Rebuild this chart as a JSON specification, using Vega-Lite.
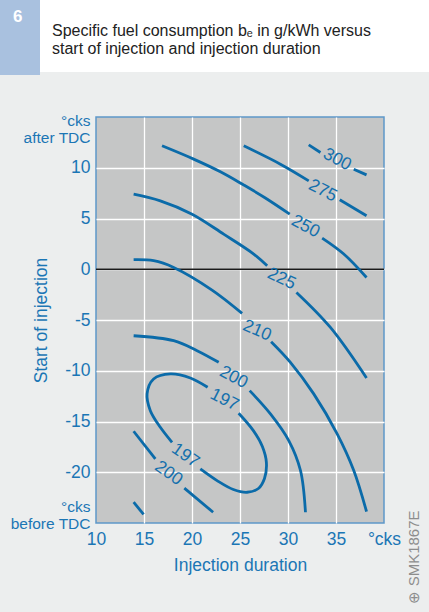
{
  "$schema": "https://vega.github.io/schema/vega-lite/v6.json",
  "background": "#eceeee",
  "padding": {"left": 0, "top": 0, "right": 0, "bottom": 10},
  "config": {
    "font": "Liberation Sans",
    "axis": {"labelFont": "Liberation Sans", "titleFont": "Liberation Sans"},
    "title": {"font": "Liberation Sans"}
  },
  "datasets": {
    "contours": [
      {"seg": "300a", "i": 1, "x": 32.16, "y": 12.25}, {"seg": "300a", "i": 2, "x": 33.38, "y": 11.5},
      {"seg": "300b", "i": 1, "x": 36.85, "y": 9.86}, {"seg": "300b", "i": 2, "x": 38.18, "y": 9.3},
      {"seg": "275a", "i": 1, "x": 25.39, "y": 12.16}, {"seg": "275a", "i": 2, "x": 29.21, "y": 10.35}, {"seg": "275a", "i": 3, "x": 32.16, "y": 8.71},
      {"seg": "275b", "i": 1, "x": 35.39, "y": 6.84}, {"seg": "275b", "i": 2, "x": 38.18, "y": 5.27},
      {"seg": "250a", "i": 1, "x": 16.88, "y": 12.16}, {"seg": "250a", "i": 2, "x": 20.17, "y": 10.85}, {"seg": "250a", "i": 3, "x": 22.96, "y": 9.6}, {"seg": "250a", "i": 4, "x": 25.39, "y": 8.3}, {"seg": "250a", "i": 5, "x": 27.6, "y": 7.05}, {"seg": "250a", "i": 6, "x": 30.18, "y": 5.43},
      {"seg": "250b", "i": 1, "x": 33.56, "y": 3.07}, {"seg": "250b", "i": 2, "x": 35.81, "y": 1.5}, {"seg": "250b", "i": 3, "x": 38.18, "y": -0.81},
      {"seg": "225a", "i": 1, "x": 13.92, "y": 7.4}, {"seg": "225a", "i": 2, "x": 16.7, "y": 6.74}, {"seg": "225a", "i": 3, "x": 20.01, "y": 5.43}, {"seg": "225a", "i": 4, "x": 23.3, "y": 3.46}, {"seg": "225a", "i": 5, "x": 26.43, "y": 1.5}, {"seg": "225a", "i": 6, "x": 27.83, "y": 0.34},
      {"seg": "225b", "i": 1, "x": 30.88, "y": -2.28}, {"seg": "225b", "i": 2, "x": 34.42, "y": -5.73}, {"seg": "225b", "i": 3, "x": 38.18, "y": -10.71},
      {"seg": "210a", "i": 1, "x": 13.92, "y": 0.94}, {"seg": "210a", "i": 2, "x": 16.0, "y": 0.84}, {"seg": "210a", "i": 3, "x": 18.09, "y": 0.18}, {"seg": "210a", "i": 4, "x": 22.09, "y": -2.05}, {"seg": "210a", "i": 5, "x": 25.22, "y": -4.35},
      {"seg": "210b", "i": 1, "x": 28.24, "y": -7.14}, {"seg": "210b", "i": 2, "x": 30.25, "y": -9.17}, {"seg": "210b", "i": 3, "x": 32.68, "y": -12.28}, {"seg": "210b", "i": 4, "x": 35.12, "y": -16.22}, {"seg": "210b", "i": 5, "x": 36.85, "y": -19.83}, {"seg": "210b", "i": 6, "x": 38.18, "y": -23.87},
      {"seg": "200a", "i": 1, "x": 13.92, "y": -6.55}, {"seg": "200a", "i": 2, "x": 18.09, "y": -7.04}, {"seg": "200a", "i": 3, "x": 20.53, "y": -8.02}, {"seg": "200a", "i": 4, "x": 22.78, "y": -9.17},
      {"seg": "200b", "i": 1, "x": 26.01, "y": -11.96}, {"seg": "200b", "i": 2, "x": 28.17, "y": -14.25}, {"seg": "200b", "i": 3, "x": 30.08, "y": -16.88}, {"seg": "200b", "i": 4, "x": 31.3, "y": -19.83}, {"seg": "200b", "i": 5, "x": 31.82, "y": -23.94},
      {"seg": "200c", "i": 1, "x": 13.92, "y": -15.96}, {"seg": "200c", "i": 2, "x": 16.18, "y": -18.68},
      {"seg": "200d", "i": 1, "x": 19.2, "y": -21.57}, {"seg": "200d", "i": 2, "x": 22.2, "y": -23.94},
      {"seg": "210c", "i": 1, "x": 13.92, "y": -22.95}, {"seg": "210c", "i": 2, "x": 14.96, "y": -24.16},
      {"seg": "197a", "i": 1, "x": 21.63, "y": -11.63}, {"seg": "197a", "i": 2, "x": 19.83, "y": -10.71}, {"seg": "197a", "i": 3, "x": 17.75, "y": -10.31}, {"seg": "197a", "i": 4, "x": 16.0, "y": -10.81}, {"seg": "197a", "i": 5, "x": 15.32, "y": -12.28}, {"seg": "197a", "i": 6, "x": 15.66, "y": -13.93}, {"seg": "197a", "i": 7, "x": 16.7, "y": -15.57}, {"seg": "197a", "i": 8, "x": 17.92, "y": -17.05},
      {"seg": "197b", "i": 1, "x": 20.87, "y": -19.67}, {"seg": "197b", "i": 2, "x": 22.61, "y": -20.82}, {"seg": "197b", "i": 3, "x": 24.31, "y": -21.7}, {"seg": "197b", "i": 4, "x": 25.74, "y": -21.97}, {"seg": "197b", "i": 5, "x": 26.92, "y": -21.6}, {"seg": "197b", "i": 6, "x": 27.55, "y": -20.62}, {"seg": "197b", "i": 7, "x": 27.75, "y": -19.05}, {"seg": "197b", "i": 8, "x": 27.33, "y": -17.47}, {"seg": "197b", "i": 9, "x": 26.39, "y": -15.9}, {"seg": "197b", "i": 10, "x": 24.86, "y": -14.19}
    ],
    "labels": [
      {"k": "300", "t": "300", "x": 35.12, "y": 10.8},
      {"k": "275", "t": "275", "x": 33.62, "y": 7.73},
      {"k": "250", "t": "250", "x": 31.82, "y": 4.21},
      {"k": "225", "t": "225", "x": 29.32, "y": -0.94},
      {"k": "210", "t": "210", "x": 26.78, "y": -6.05},
      {"k": "200a", "t": "200", "x": 24.34, "y": -10.65},
      {"k": "197a", "t": "197", "x": 23.37, "y": -12.87},
      {"k": "197b", "t": "197", "x": 19.31, "y": -18.36},
      {"k": "200b", "t": "200", "x": 17.57, "y": -20.1}
    ]
  },
  "hconcat": [
    {
      "width": 40, "height": 75,
      "view": {"fill": "#a9c1df", "stroke": null},
      "data": {"values": []},
      "mark": "point",
      "title": {"text": "6", "anchor": "start", "frame": "group", "align": "left", "baseline": "top", "offset": -26, "dx": 13, "fontSize": 17, "fontWeight": "bold", "color": "white"}
    },
    {
      "width": 56, "height": 72,
      "view": {"fill": "white", "stroke": null},
      "data": {"values": []},
      "mark": "point"
    },
    {
      "vconcat": [
        {
          "width": 333, "height": 72,
          "view": {"fill": "white", "stroke": null},
          "data": {"values": []},
          "mark": "point",
          "title": {"text": ["Specific fuel consumption bₑ in g/kWh versus", "start of injection and injection duration"], "anchor": "start", "frame": "group", "align": "left", "baseline": "top", "offset": -57, "dx": -44, "fontSize": 16, "fontWeight": "normal", "lineHeight": 18, "color": "#222222"}
        },
        {
          "width": 288, "height": 406,
          "view": {"fill": "#c5c6c6", "stroke": "#5d98c9", "strokeWidth": 1.5},
          "resolve": {"axis": {"y": "independent"}},
          "layer": [
            {
              "data": {"values": [{}]},
              "mark": {"type": "rule", "color": "#1a1a1a", "strokeWidth": 1.5},
              "encoding": {
                "y": {"datum": 0, "type": "quantitative", "scale": {"domain": [-25, 15], "nice": false, "zero": false},
                  "axis": {"orient": "right", "labels": false, "ticks": false, "domain": false, "grid": false, "title": "⊕ SMK1867E", "titleAngle": 270, "titleAlign": "left", "titleBaseline": "middle", "titleX": 29, "titleY": 486, "titleColor": "#8d8d8d", "titleFontSize": 15, "titleFontWeight": "normal"}}
              }
            },
            {
              "data": {"name": "contours"},
              "mark": {"type": "line", "color": "#0b6ba9", "strokeWidth": 2.8, "interpolate": "catmull-rom", "strokeCap": "butt"},
              "encoding": {
                "x": {"field": "x", "type": "quantitative", "title": "Injection duration", "scale": {"domain": [10, 40], "nice": false, "zero": false},
                  "axis": {"values": [10, 15, 20, 25, 30, 35, 40], "labelExpr": "datum.value == 40 ? '°cks' : '' + datum.value", "ticks": false, "domain": false, "grid": true, "gridColor": "white", "gridWidth": 1.3,
                    "gridOpacity": {"condition": {"test": "datum.value == 10 || datum.value == 40", "value": 0}, "value": 1},
                    "labelColor": "#1b76b5", "labelFontSize": 17.5, "labelPadding": 7, "labelFlush": false, "labelOverlap": false,
                    "titleColor": "#1b76b5", "titleFontSize": 17.5, "titleFontWeight": "normal", "titlePadding": 9}},
                "y": {"field": "y", "type": "quantitative", "title": "Start of injection", "scale": {"domain": [-25, 15], "nice": false, "zero": false},
                  "axis": {"orient": "left", "values": [-25, -20, -15, -10, -5, 0, 5, 10, 15],
                    "labelExpr": "datum.value == 15 ? ['°cks', 'after TDC'] : datum.value == -25 ? ['°cks', 'before TDC'] : '' + datum.value",
                    "ticks": false, "domain": false, "grid": true, "gridColor": "white", "gridWidth": 1.3,
                    "gridOpacity": {"condition": {"test": "datum.value == 15 || datum.value == -25", "value": 0}, "value": 1},
                    "labelColor": "#1b76b5",
                    "labelFontSize": {"condition": {"test": "datum.value == 15 || datum.value == -25", "value": 15.5}, "value": 17.5},
                    "labelOffset": {"condition": [{"test": "datum.value == 15", "value": 3}, {"test": "datum.value == -25", "value": -17}], "value": 0},
                    "labelBaseline": "middle", "labelLineHeight": 17, "labelPadding": 6, "labelOverlap": false, "labelFlush": false,
                    "titleColor": "#1b76b5", "titleFontSize": 17.5, "titleFontWeight": "normal", "titleX": -50, "titleBaseline": "alphabetic"}},
                "detail": {"field": "seg", "type": "nominal"},
                "order": {"field": "i", "type": "quantitative"}
              }
            },
            {"data": {"name": "labels"}, "transform": [{"filter": "datum.k == '300'"}], "mark": {"type": "text", "angle": 28, "fontSize": 17.5, "color": "#1470ad"}, "encoding": {"x": {"field": "x", "type": "quantitative", "title": "Injection duration", "scale": {"domain": [10, 40], "nice": false, "zero": false}}, "y": {"field": "y", "type": "quantitative", "axis": null, "scale": {"domain": [-25, 15], "nice": false, "zero": false}}, "text": {"field": "t"}}},
            {"data": {"name": "labels"}, "transform": [{"filter": "datum.k == '275'"}], "mark": {"type": "text", "angle": 27, "fontSize": 17.5, "color": "#1470ad"}, "encoding": {"x": {"field": "x", "type": "quantitative", "title": "Injection duration", "scale": {"domain": [10, 40], "nice": false, "zero": false}}, "y": {"field": "y", "type": "quantitative", "axis": null, "scale": {"domain": [-25, 15], "nice": false, "zero": false}}, "text": {"field": "t"}}},
            {"data": {"name": "labels"}, "transform": [{"filter": "datum.k == '250'"}], "mark": {"type": "text", "angle": 28, "fontSize": 17.5, "color": "#1470ad"}, "encoding": {"x": {"field": "x", "type": "quantitative", "title": "Injection duration", "scale": {"domain": [10, 40], "nice": false, "zero": false}}, "y": {"field": "y", "type": "quantitative", "axis": null, "scale": {"domain": [-25, 15], "nice": false, "zero": false}}, "text": {"field": "t"}}},
            {"data": {"name": "labels"}, "transform": [{"filter": "datum.k == '225'"}], "mark": {"type": "text", "angle": 25, "fontSize": 17.5, "color": "#1470ad"}, "encoding": {"x": {"field": "x", "type": "quantitative", "title": "Injection duration", "scale": {"domain": [10, 40], "nice": false, "zero": false}}, "y": {"field": "y", "type": "quantitative", "axis": null, "scale": {"domain": [-25, 15], "nice": false, "zero": false}}, "text": {"field": "t"}}},
            {"data": {"name": "labels"}, "transform": [{"filter": "datum.k == '210'"}], "mark": {"type": "text", "angle": 23, "fontSize": 17.5, "color": "#1470ad"}, "encoding": {"x": {"field": "x", "type": "quantitative", "title": "Injection duration", "scale": {"domain": [10, 40], "nice": false, "zero": false}}, "y": {"field": "y", "type": "quantitative", "axis": null, "scale": {"domain": [-25, 15], "nice": false, "zero": false}}, "text": {"field": "t"}}},
            {"data": {"name": "labels"}, "transform": [{"filter": "datum.k == '200a'"}], "mark": {"type": "text", "angle": 28, "fontSize": 17.5, "color": "#1470ad"}, "encoding": {"x": {"field": "x", "type": "quantitative", "title": "Injection duration", "scale": {"domain": [10, 40], "nice": false, "zero": false}}, "y": {"field": "y", "type": "quantitative", "axis": null, "scale": {"domain": [-25, 15], "nice": false, "zero": false}}, "text": {"field": "t"}}},
            {"data": {"name": "labels"}, "transform": [{"filter": "datum.k == '197a'"}], "mark": {"type": "text", "angle": 27, "fontSize": 17.5, "color": "#1470ad"}, "encoding": {"x": {"field": "x", "type": "quantitative", "title": "Injection duration", "scale": {"domain": [10, 40], "nice": false, "zero": false}}, "y": {"field": "y", "type": "quantitative", "axis": null, "scale": {"domain": [-25, 15], "nice": false, "zero": false}}, "text": {"field": "t"}}},
            {"data": {"name": "labels"}, "transform": [{"filter": "datum.k == '197b'"}], "mark": {"type": "text", "angle": 35, "fontSize": 17.5, "color": "#1470ad"}, "encoding": {"x": {"field": "x", "type": "quantitative", "title": "Injection duration", "scale": {"domain": [10, 40], "nice": false, "zero": false}}, "y": {"field": "y", "type": "quantitative", "axis": null, "scale": {"domain": [-25, 15], "nice": false, "zero": false}}, "text": {"field": "t"}}},
            {"data": {"name": "labels"}, "transform": [{"filter": "datum.k == '200b'"}], "mark": {"type": "text", "angle": 35, "fontSize": 17.5, "color": "#1470ad"}, "encoding": {"x": {"field": "x", "type": "quantitative", "title": "Injection duration", "scale": {"domain": [10, 40], "nice": false, "zero": false}}, "y": {"field": "y", "type": "quantitative", "axis": null, "scale": {"domain": [-25, 15], "nice": false, "zero": false}}, "text": {"field": "t"}}}
          ]
        }
      ],
      "spacing": 40,
      "align": "none",
      "center": false
    }
  ],
  "spacing": 0,
  "align": "none",
  "bounds": "flush",
  "center": false
}
